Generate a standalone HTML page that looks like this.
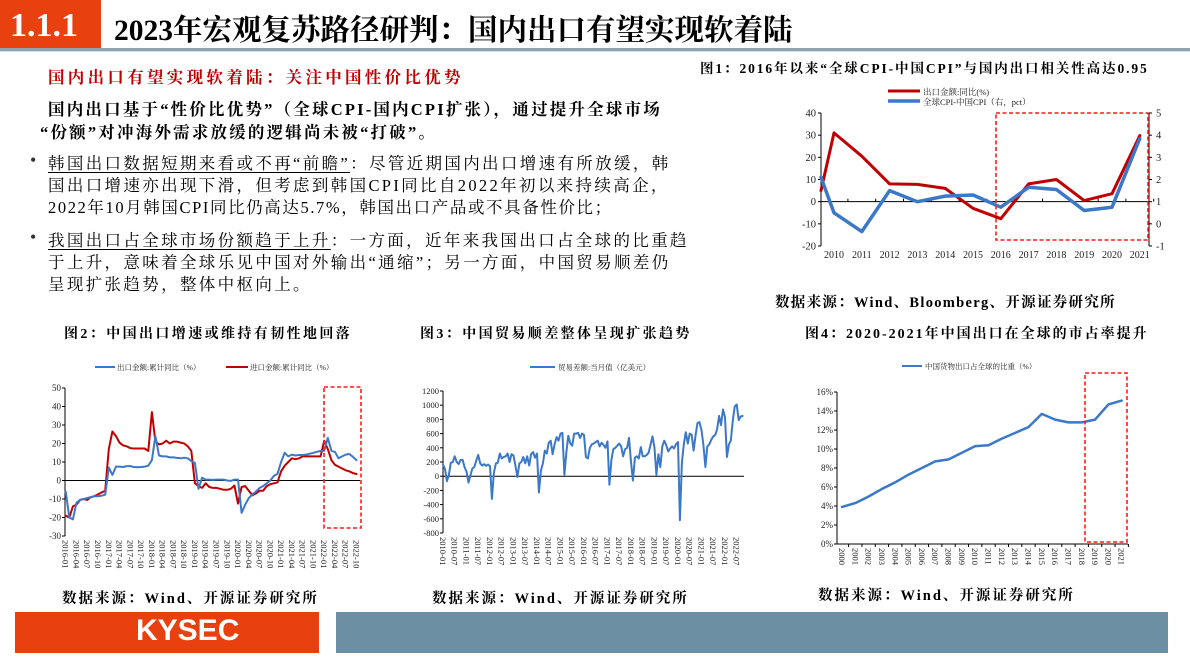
<!DOCTYPE html>
<html><head><meta charset="utf-8">
<style>
body{margin:0;width:1190px;height:669px;overflow:hidden;background:#fff;position:relative;font-family:"Liberation Serif","Noto Serif CJK SC",serif;}
.abs{position:absolute;white-space:nowrap;}
.t{font-family:"Liberation Serif","Noto Serif CJK SC",serif;font-weight:bold;color:#000;}
.body{font-size:16.5px;letter-spacing:2.35px;}
u{text-decoration:underline;text-underline-offset:3px;}
svg text{font-family:"Liberation Serif","Noto Serif CJK SC",serif;}
</style></head><body>
<div class="abs" style="left:0;top:0;width:101px;height:48px;background:#e8410f;"></div>
<div class="abs t" style="left:10px;top:7px;font-size:34px;color:#fff;">1.1.1</div>
<div class="abs t" style="left:114px;top:7px;font-size:29.5px;">2023年宏观复苏路径研判：国内出口有望实现软着陆</div>
<div class="abs" style="left:0;top:48px;width:1190px;height:3px;background:#8fa5b5;"></div>
<div class="abs" style="left:0;top:51px;width:1190px;height:1px;background:#d6dee4;"></div>

<div class="abs t" style="left:48px;top:64px;font-size:16.5px;letter-spacing:3.3px;color:#c00000;">国内出口有望实现软着陆：关注中国性价比优势</div>
<div class="abs t body" style="left:48px;top:96px;letter-spacing:2.2px;">国内出口基于“性价比优势”（全球CPI-国内CPI扩张），通过提升全球市场</div>
<div class="abs t body" style="left:40px;top:119px;letter-spacing:2.2px;">“份额”对冲海外需求放缓的逻辑尚未被“打破”。</div>

<div class="abs" style="left:30px;top:150px;font-size:18px;color:#333;">•</div>
<div class="abs body" style="left:48px;top:150px;"><u>韩国出口数据短期来看或不再“前瞻”</u>：尽管近期国内出口增速有所放缓，韩</div>
<div class="abs body" style="left:48px;top:172px;">国出口增速亦出现下滑，但考虑到韩国CPI同比自2022年初以来持续高企，</div>
<div class="abs body" style="left:48px;top:194px;letter-spacing:1.6px;">2022年10月韩国CPI同比仍高达5.7%，韩国出口产品或不具备性价比；</div>
<div class="abs" style="left:30px;top:227px;font-size:18px;color:#333;">•</div>
<div class="abs body" style="left:48px;top:227px;"><u>我国出口占全球市场份额趋于上升</u>：一方面，近年来我国出口占全球的比重趋</div>
<div class="abs body" style="left:48px;top:249px;">于上升，意味着全球乐见中国对外输出“通缩”；另一方面，中国贸易顺差仍</div>
<div class="abs body" style="left:48px;top:271px;">呈现扩张趋势，整体中枢向上。</div>

<div class="abs t" style="left:700px;top:57px;font-size:13.5px;letter-spacing:1.9px;">图1：2016年以来“全球CPI-中国CPI”与国内出口相关性高达0.95</div>
<div class="abs t" style="left:775px;top:291px;font-size:14.5px;letter-spacing:1.3px;">数据来源：Wind、Bloomberg、开源证券研究所</div>
<div class="abs t" style="left:64px;top:323px;font-size:14px;letter-spacing:2.4px;">图2：中国出口增速或维持有韧性地回落</div>
<div class="abs t" style="left:420px;top:323px;font-size:14px;letter-spacing:2.4px;">图3：中国贸易顺差整体呈现扩张趋势</div>
<div class="abs t" style="left:805px;top:323px;font-size:14px;letter-spacing:2px;">图4：2020-2021年中国出口在全球的市占率提升</div>
<div class="abs t" style="left:62px;top:587px;font-size:14.5px;letter-spacing:2px;">数据来源：Wind、开源证券研究所</div>
<div class="abs t" style="left:432px;top:587px;font-size:14.5px;letter-spacing:2px;">数据来源：Wind、开源证券研究所</div>
<div class="abs t" style="left:818px;top:584px;font-size:14.5px;letter-spacing:2px;">数据来源：Wind、开源证券研究所</div>

<div class="abs" style="left:15px;top:612px;width:304px;height:41px;background:#e8410f;"></div>
<div class="abs" style="left:136px;top:614px;font-family:'Liberation Sans',sans-serif;font-weight:bold;font-size:30px;color:#fff;">KYSEC</div>
<div class="abs" style="left:336px;top:612px;width:832px;height:41px;background:#6c8fa3;"></div>

<svg id="s" width="1190" height="669" style="position:absolute;left:0;top:0"></svg>
<script>
// ---- Chart 1 data ----
const c1Years=["2010","2011","2012","2013","2014","2015","2016","2017","2018","2019","2020","2021"];
const c1Export=[31,20.5,8,7.8,6,-3,-7.7,8,10,0.5,3.6,29.8];
const c1Cpi=[0.5,-0.35,1.5,1.0,1.25,1.3,0.75,1.65,1.55,0.6,0.75,3.85];
const c1ExportStart=5, c1CpiStart=2.1;
const c1LeftTicks=[40,30,20,10,0,-10,-20];
const c1RightTicks=[5,4,3,2,1,0,-1];
// ---- Chart 2 data ----
const c2Export=[-6,-20,-21,-12,-10.5,-10,-9.5,-9,-8.5,-8.5,-8.2,-7.7,
7,3,7.5,7.5,7.3,7.8,7.8,7.3,7.2,7.3,7.5,8,
11,24,13.5,13,13,12.5,12.5,12.2,12,12.3,12,10.5,
9.5,-4.5,1.5,0.5,0.5,0.3,0.5,0.5,0.5,0,-0.2,0.5,
0.5,-17.5,-13,-9.5,-7.5,-6,-4,-3,-1.5,0,2.5,3.6,
10,15,13,14,13.5,13.8,13.8,14,14.5,15,15.5,16,
16,23,16,15.5,12,13,14,14.3,12.8,11];
const c2Import=[-19,-20,-14,-13,-10.5,-10,-10.5,-9,-8.5,-7.5,-6.5,-5.5,
17,26.5,24,20.5,19,18.5,17.5,17.3,17.3,17.3,17.3,16,
37,21,19.5,20,21.5,20,21,21,20.5,20,18.5,16,
-1.5,-3,-4,-1.5,-3.5,-4,-4,-4.5,-5,-5,-4.5,-2.7,
-12.5,-3.5,-3,-5.5,-8,-7,-5.5,-5.5,-3,-2,-1.5,-1,
5,8,10,12,11.5,12,13,13,13,13,13,13,
21.5,17,11,8.5,7.5,6.5,5.5,5,4,3.5];
const c2Ticks=[50,40,30,20,10,0,-10,-20,-30];
const c2StartYear=2016;
// ---- Chart 3 data ----
const c3Balance=[160,100,-70,20,190,200,280,200,170,230,230,130,
65,-90,10,110,130,220,300,180,150,170,145,165,
140,-320,50,180,190,320,250,270,280,320,200,310,
290,150,-10,180,200,270,180,280,150,310,340,260,
320,-230,80,180,360,320,470,500,310,450,550,500,
600,610,20,340,570,460,430,600,600,610,540,600,
580,270,250,400,450,460,480,500,420,470,440,400,
490,-120,230,380,400,430,460,420,280,380,400,540,
200,-60,260,280,250,410,280,280,300,330,440,560,
400,20,310,130,420,500,440,350,390,420,390,450,
480,-620,190,450,620,460,600,580,360,580,750,760,
650,440,130,420,450,510,560,580,660,850,720,940,
830,270,450,500,780,980,1010,790,840,850];
const c3Ticks=[1200,1000,800,600,400,200,0,-200,-400,-600,-800];
const c3StartYear=2010;
// ---- Chart 4 data ----
const c4Years=["2000","2001","2002","2003","2004","2005","2006","2007","2008","2009","2010","2011","2012","2013","2014","2015","2016","2017","2018","2019","2020","2021"];
const c4Share=[3.9,4.3,5.0,5.8,6.5,7.3,8.0,8.7,8.9,9.6,10.3,10.4,11.1,11.7,12.3,13.7,13.1,12.8,12.8,13.1,14.7,15.1];
const c4Ticks=[16,14,12,10,8,6,4,2,0];

const S=document.getElementById('s');const NS='http://www.w3.org/2000/svg';
function mk(tag,attrs,parent){const e=document.createElementNS(NS,tag);for(const k in attrs)e.setAttribute(k,attrs[k]);(parent||S).appendChild(e);return e;}
function txt(x,y,s,size,anchor,rot){const e=mk('text',{x:x,y:y,'font-size':size,'text-anchor':anchor||'end',fill:'#222'});if(rot)e.setAttribute('transform','rotate(90 '+x+' '+y+')');e.textContent=s;return e;}
function poly(pts,color,w){return mk('polyline',{points:pts.map(p=>p[0].toFixed(1)+','+p[1].toFixed(1)).join(' '),fill:'none',stroke:color,'stroke-width':w,'stroke-linejoin':'round','stroke-linecap':'round'});}
function box(x1,y1,x2,y2){return mk('rect',{x:x1,y:y1,width:x2-x1,height:y2-y1,fill:'none',stroke:'#ff1a1a','stroke-width':1.6,'stroke-dasharray':'4,2.5'});}
const RED='#c00000',BLUE='#3b78c8';

// ===== Chart 1 =====
{const L=821,R=1149,T=113,B=246;
const yL=v=>T+(40-v)/60*(B-T), yR=v=>T+(5-v)/6*(B-T), x=i=>834+i*27.8;
let a=mk('line',{x1:L,y1:T,x2:L,y2:B,stroke:'#000','stroke-width':1});
a=mk('line',{x1:R,y1:T,x2:R,y2:B,stroke:'#000','stroke-width':1});
a=mk('line',{x1:L,y1:yL(0),x2:R,y2:yL(0),stroke:'#000','stroke-width':1});
c1LeftTicks.forEach(v=>{mk('line',{x1:L-3,y1:yL(v),x2:L,y2:yL(v),stroke:'#000'});const t=txt(L-5,yL(v)+3.5,String(v),10.5,'end');});
c1RightTicks.forEach(v=>{mk('line',{x1:R,y1:yR(v),x2:R+3,y2:yR(v),stroke:'#000'});const t=txt(R+7,yR(v)+3.5,String(v),10.5,'start');});
c1Years.forEach((y,i)=>{mk('line',{x1:x(i)+13.9,y1:yL(0),x2:x(i)+13.9,y2:yL(0)-3,stroke:'#000'});const t=txt(x(i),258,y,10,'middle');});
let p=poly([[L,yL(c1ExportStart)]].concat(c1Export.map((v,i)=>[x(i),yL(v)])),RED,3);
p=poly([[L,yR(c1CpiStart)]].concat(c1Cpi.map((v,i)=>[x(i),yR(v)])),BLUE,3.5);
const b=box(996,113,1148,240);
let l=mk('line',{x1:888,y1:91,x2:920,y2:91,stroke:RED,'stroke-width':3});
txt(923,95,'出口金额:同比(%)',8.5,'start');
l=mk('line',{x1:888,y1:101,x2:920,y2:101,stroke:BLUE,'stroke-width':3.5});
txt(923,105,'全球CPI-中国CPI（右，pct）',8.5,'start');}

// ===== Chart 2 =====
{const L=65,R=360,T=388,B=536;const y=v=>T+(50-v)/80*(B-T), x=i=>65.7+i*3.59;
let a=mk('line',{x1:L,y1:T,x2:L,y2:B,stroke:'#000'});
a=mk('line',{x1:L,y1:y(0),x2:R,y2:y(0),stroke:'#000'});
c2Ticks.forEach(v=>{mk('line',{x1:L-3,y1:y(v),x2:L,y2:y(v),stroke:'#000'});const t=txt(L-4,y(v)+3,String(v),9,'end');});
for(let i=0;i<c2Export.length;i+=3){const yr=c2StartYear+Math.floor(i/12),m=i%12+1;const t=txt(x(i)-3,540,yr+'-'+(m<10?'0':'')+m,8.5,'start',true);}
let p=poly(c2Import.map((v,i)=>[x(i),y(v)]),RED,2);
p=poly(c2Export.map((v,i)=>[x(i),y(v)]),BLUE,2);
const b=box(324,387,361,528);
let l=mk('line',{x1:95,y1:367,x2:115,y2:367,stroke:BLUE,'stroke-width':2});
txt(117,370,'出口金额:累计同比（%）',7.5,'start');
l=mk('line',{x1:226,y1:367,x2:248,y2:367,stroke:RED,'stroke-width':2});
txt(250,370,'进口金额:累计同比（%）',7.5,'start');}

// ===== Chart 3 =====
{const L=443,R=744,T=391,B=533;const y=v=>T+(1200-v)/2000*(B-T), x=i=>443+i*1.958;
let a=mk('line',{x1:L,y1:T,x2:L,y2:B,stroke:'#000'});
a=mk('line',{x1:L,y1:y(0),x2:R,y2:y(0),stroke:'#000'});
c3Ticks.forEach(v=>{mk('line',{x1:L-3,y1:y(v),x2:L,y2:y(v),stroke:'#000'});const t=txt(L-4,y(v)+3,String(v),8.5,'end');});
for(let i=0;i<c3Balance.length;i+=6){const yr=c3StartYear+Math.floor(i/12),m=i%12+1;const t=txt(x(i)-3,537,yr+'-'+(m<10?'0':'')+m,8.5,'start',true);}
let p=poly(c3Balance.map((v,i)=>[x(i),y(v)]),BLUE,2);
let l=mk('line',{x1:530,y1:367,x2:555,y2:367,stroke:BLUE,'stroke-width':2});
txt(558,370,'贸易差额:当月值（亿美元）',7.5,'start');}

// ===== Chart 4 =====
{const L=837,R=1128,T=392,B=544;const y=v=>T+(16-v)/16*(B-T), x=i=>842+i*13.32;
let a=mk('line',{x1:L,y1:T,x2:L,y2:B,stroke:'#000'});
a=mk('line',{x1:L,y1:B,x2:R,y2:B,stroke:'#000'});
c4Ticks.forEach(v=>{mk('line',{x1:L-3,y1:y(v),x2:L,y2:y(v),stroke:'#000'});const t=txt(L-4,y(v)+3,v+'%',9,'end');});
c4Years.forEach((yr,i)=>{mk('line',{x1:x(i)+6.66,y1:B,x2:x(i)+6.66,y2:B+3,stroke:'#000'});const t=txt(x(i)-3,548,yr,8.5,'start',true);});
let p=poly(c4Share.map((v,i)=>[x(i),y(v)]),BLUE,2.5);
const b=box(1085,373,1127,542);
let l=mk('line',{x1:902,y1:366,x2:922,y2:366,stroke:BLUE,'stroke-width':2});
txt(925,369,'中国货物出口占全球的比重（%）',7.5,'start');}
</script>
</body></html>
